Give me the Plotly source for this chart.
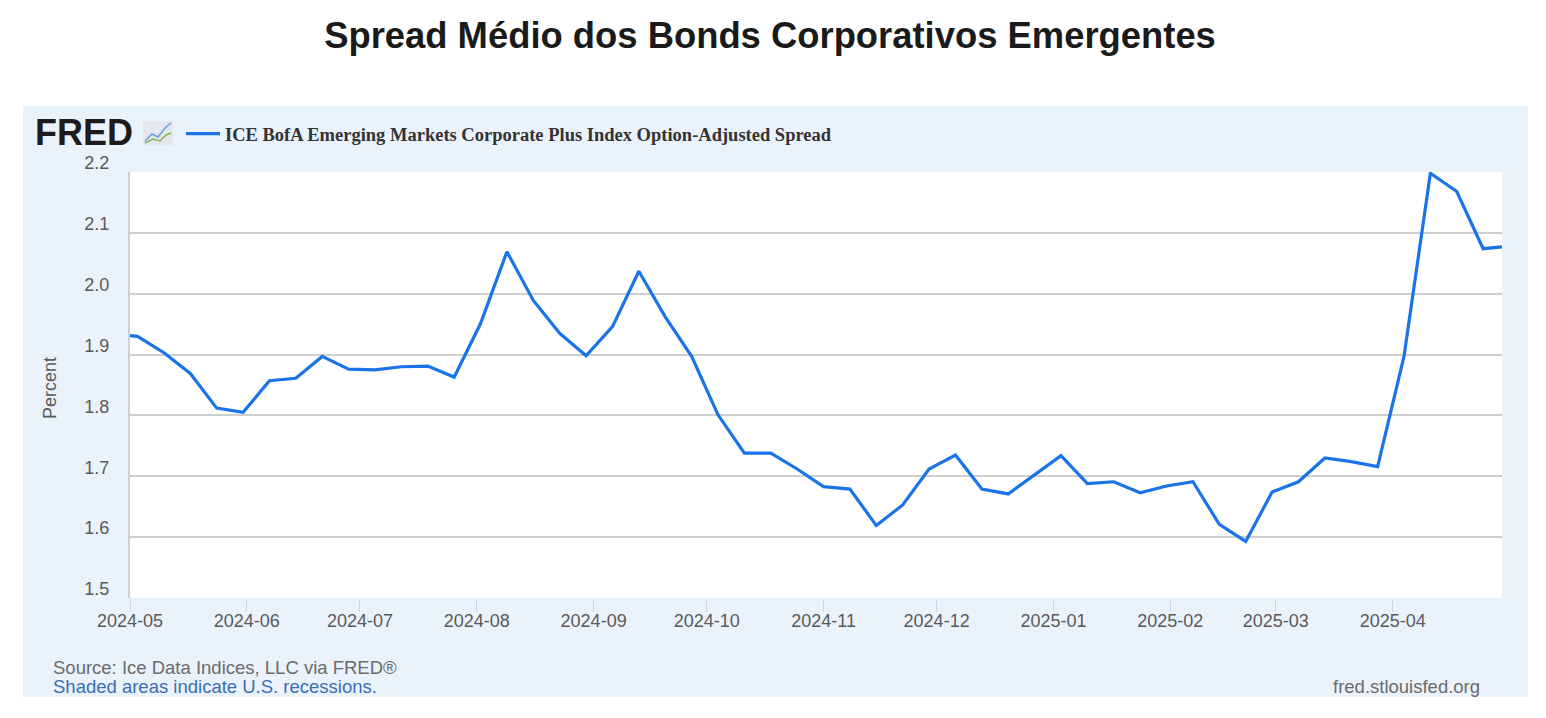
import plotly.graph_objects as go

# ---------- Data (weekly, ending Friday) ----------
dates = [
    "2024-05-01", "2024-05-03", "2024-05-10", "2024-05-17", "2024-05-24", "2024-05-31",
    "2024-06-07", "2024-06-14", "2024-06-21", "2024-06-28",
    "2024-07-05", "2024-07-12", "2024-07-19", "2024-07-26",
    "2024-08-02", "2024-08-09", "2024-08-16", "2024-08-23", "2024-08-30",
    "2024-09-06", "2024-09-13", "2024-09-20", "2024-09-27",
    "2024-10-04", "2024-10-11", "2024-10-18", "2024-10-25",
    "2024-11-01", "2024-11-08", "2024-11-15", "2024-11-22", "2024-11-29",
    "2024-12-06", "2024-12-13", "2024-12-20", "2024-12-27",
    "2025-01-03", "2025-01-10", "2025-01-17", "2025-01-24", "2025-01-31",
    "2025-02-07", "2025-02-14", "2025-02-21", "2025-02-28",
    "2025-03-07", "2025-03-14", "2025-03-21", "2025-03-28",
    "2025-04-04", "2025-04-11", "2025-04-18", "2025-04-25", "2025-04-30",
]
spread = [
    1.931, 1.930, 1.903, 1.869, 1.812, 1.805,
    1.857, 1.861, 1.897, 1.876,
    1.875, 1.880, 1.881, 1.863,
    1.951, 2.069, 1.989, 1.935, 1.898,
    1.946, 2.037, 1.962, 1.897,
    1.801, 1.738, 1.738, 1.712,
    1.683, 1.679, 1.619, 1.653, 1.712,
    1.735, 1.679, 1.671, 1.702,
    1.734, 1.688, 1.691, 1.673, 1.684,
    1.691, 1.621, 1.593, 1.674,
    1.691, 1.730, 1.724, 1.716,
    1.897, 2.198, 2.168, 2.074, 2.077,
]
y_ticks = [1.5, 1.6, 1.7, 1.8, 1.9, 2.0, 2.1, 2.2]

series_name = "ICE BofA Emerging Markets Corporate Plus Index Option-Adjusted Spread"
title = "Spread Médio dos Bonds Corporativos Emergentes"

# ---------- Page geometry (screen pixels; page body adds an 8px margin) ----------
OFF = 8
W, H = 1546 - OFF, 718 - OFF
L, R, T, B = 130, 1502, 172, 598


def px(x):
    return (x - L) / (R - L)


def py(y):
    return (B - y) / (B - T)


LINE = "#1a73e8"
SANS = "Liberation Sans, Arial, sans-serif"
SERIF = "Liberation Serif, Times New Roman, serif"

fig = go.Figure()
fig.add_trace(go.Scatter(
    x=dates, y=spread, mode="lines", name=series_name,
    line=dict(color=LINE, width=3.2),
))

# light blue FRED panel + white plot area
fig.add_shape(type="rect", xref="paper", yref="paper", layer="below",
              x0=px(23), x1=px(1528), y0=py(697), y1=py(106),
              fillcolor="#eaf2fc", line=dict(width=0))
fig.add_shape(type="rect", xref="x domain", yref="y domain", layer="below",
              x0=0, x1=1, y0=0, y1=1, fillcolor="white", line=dict(width=0))

# small FRED chart icon
fig.add_shape(type="rect", xref="paper", yref="paper",
              x0=px(143), x1=px(173), y0=py(145), y1=py(121),
              fillcolor="#e4e8ec", line=dict(width=0))
fig.add_shape(type="path", xref="paper", yref="paper",
              path=f"M {px(145)} {py(141)} L {px(152)} {py(134)} L {px(158)} {py(137)} "
                   f"L {px(165)} {py(128)} L {px(171)} {py(123)}",
              line=dict(color="#6a9fd6", width=1.5))
fig.add_shape(type="path", xref="paper", yref="paper",
              path=f"M {px(145)} {py(143)} L {px(153)} {py(139)} L {px(160)} {py(141)} "
                   f"L {px(166)} {py(135)} L {px(171)} {py(133)}",
              line=dict(color="#8bb35a", width=1.5))

fig.add_annotation(text="<b>FRED</b>", xref="paper", yref="paper",
                   x=px(33), y=py(133), xanchor="left", yanchor="middle",
                   showarrow=False, font=dict(family=SANS, size=36, color="#1e1b1c"))
fig.add_annotation(text="Percent", xref="paper", yref="paper", textangle=-90,
                   x=px(50), y=py(388), xanchor="center", yanchor="middle",
                   showarrow=False, font=dict(family=SANS, size=18, color="#5a5a5a"))
fig.add_annotation(text="Source: Ice Data Indices, LLC via FRED®", xref="paper", yref="paper",
                   x=px(51), y=py(667), xanchor="left", yanchor="middle",
                   showarrow=False, font=dict(family=SANS, size=18.5, color="#6b6b6b"))
fig.add_annotation(text="Shaded areas indicate U.S. recessions.", xref="paper", yref="paper",
                   x=px(51), y=py(686), xanchor="left", yanchor="middle",
                   showarrow=False, font=dict(family=SANS, size=18.5, color="#3d6db5"))
fig.add_annotation(text="fred.stlouisfed.org", xref="paper", yref="paper",
                   x=px(1482), y=py(686), xanchor="right", yanchor="middle",
                   showarrow=False, font=dict(family=SANS, size=18.5, color="#6b6b6b"))

fig.update_layout(
    width=W, height=H,
    margin=dict(l=L - OFF, r=W - (R - OFF), t=T - OFF, b=H - (B - OFF)),
    paper_bgcolor="white", plot_bgcolor="white",
    title=dict(text=title, x=(770 - OFF) / W, xanchor="center", y=1 - (35 - OFF) / H,
               yanchor="middle",
               font=dict(family=SANS, size=36.4, color="#1a1a1a", weight="bold")),
    showlegend=True,
    legend=dict(x=px(181), y=py(134), xanchor="left", yanchor="middle",
                bgcolor="rgba(0,0,0,0)", itemwidth=34,
                font=dict(family=SERIF, size=18.5, color="#333333", weight="bold")),
    xaxis=dict(
        type="date", range=[dates[0], dates[-1]],
        tick0="2024-05-01", dtick="M1", tickformat="%Y-%m",
        ticks="outside", ticklen=13, tickcolor="#c9d7ea", tickwidth=1,
        ticklabelstandoff=-7,
        showgrid=False, showline=False, zeroline=False,
        tickfont=dict(family=SANS, size=18, color="#5a5a5a"),
    ),
    yaxis=dict(
        range=[1.5, 2.2], tickvals=y_ticks, tickformat=".1f",
        showgrid=True, gridcolor="#cfcfcf", gridwidth=2,
        showline=True, linecolor="#cfcfcf", linewidth=2,
        zeroline=False, ticks="", ticklabelstandoff=15, ticklabelshift=-9,
        tickfont=dict(family=SANS, size=18, color="#5a5a5a"),
    ),
)

fig.write_html("out.html")
